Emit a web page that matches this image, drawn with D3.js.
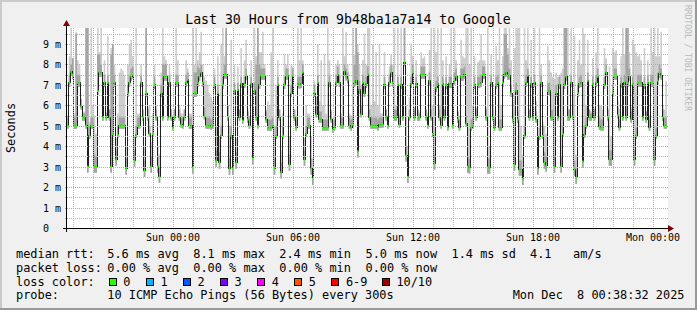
<!DOCTYPE html>
<html><head><meta charset="utf-8">
<script src="https://cdn.jsdelivr.net/npm/d3@7"></script>
<style>
html,body{margin:0;padding:0;background:#f0f0f0;}
svg{display:block;}
text{font-family:"DejaVu Sans Mono",monospace;fill:#000;}
</style>
</head><body>
<svg id="chart" width="697" height="310"></svg>
<script>
// ---------- data ----------
const titleText = "Last 30 Hours from 9b48ba1a7a14 to Google";
const yAxisLabel = "Seconds";
const yTickValues = [0, 1, 2, 3, 4, 5, 6, 7, 8, 9];
const yTickLabels = ["0", "1 m", "2 m", "3 m", "4 m", "5 m", "6 m", "7 m", "8 m", "9 m"];
const stepSeconds = 300;
const startTime = new Date(2025, 11, 6, 18, 42, 0);
const endTime = new Date(2025, 11, 8, 0, 42, 0);

// median RTT per 5-minute step (ms)
const median = [
5.0,7.1,7.65,7.5,5.0,5.0,7.1,7.1,5.95,5.4,
5.4,5.0,3.0,4.5,5.0,5.0,3.0,3.0,6.7,7.6,
7.6,5.4,7.1,5.4,7.1,5.4,3.0,4.6,7.1,3.35,
4.55,5.0,5.0,5.0,5.0,2.9,6.6,7.1,7.4,7.5,
3.3,4.55,5.0,5.0,7.1,5.4,2.8,6.6,5.4,4.6,
3.0,4.6,7.0,5.4,3.0,2.5,6.6,5.4,7.4,7.4,
5.4,7.1,5.4,4.9,5.4,7.1,7.1,5.4,5.05,5.0,
5.4,7.1,7.25,5.0,5.0,2.95,6.6,6.6,7.1,7.4,
7.6,7.1,5.45,5.0,5.0,5.0,4.95,5.0,7.0,3.3,
6.6,3.2,4.5,7.0,7.5,7.5,5.4,2.9,4.5,2.9,
6.7,3.2,6.75,5.4,7.05,5.25,7.05,7.45,5.3,5.0,
7.05,3.4,6.7,5.4,5.0,7.0,7.45,7.45,7.45,5.3,
4.9,4.9,4.9,5.0,2.9,4.5,7.0,5.4,2.72,4.5,
7.0,7.45,7.45,3.1,6.6,7.45,5.4,4.9,7.05,7.0,
7.05,7.6,3.35,4.6,5.0,5.0,2.9,2.4,6.6,5.55,
7.1,5.3,5.3,4.9,4.9,4.9,4.9,7.1,5.3,4.8,
4.9,7.1,7.5,7.1,5.0,5.0,7.65,7.4,7.25,5.0,
4.9,5.05,7.1,7.2,3.75,6.75,5.55,7.1,6.6,7.05,
7.5,5.4,5.0,5.0,5.0,5.0,4.9,5.05,5.05,5.05,
7.0,5.4,5.0,7.1,7.6,7.1,5.4,5.4,7.0,5.05,
7.0,5.4,8.1,3.55,2.5,5.4,7.05,7.6,5.4,7.05,
5.4,5.4,7.5,7.5,7.5,5.4,5.0,7.2,5.4,4.6,
3.15,6.85,7.05,5.4,5.0,7.05,5.4,7.0,4.9,7.05,
7.05,5.0,7.2,7.4,5.3,4.9,7.4,7.4,7.5,5.1,
3.0,2.95,4.9,5.0,7.0,5.4,7.05,7.05,7.1,7.5,
7.5,5.4,2.95,2.95,7.1,5.4,4.9,7.0,7.1,4.9,
4.9,7.1,7.5,7.6,7.45,7.45,6.6,5.3,3.1,6.7,
5.3,2.85,2.85,2.4,4.5,7.1,7.45,5.4,7.05,5.4,
7.1,5.3,2.9,4.45,7.1,4.5,3.2,3.05,6.7,6.7,
5.4,5.4,3.0,6.6,5.4,7.0,3.0,4.6,7.0,7.4,
5.4,5.4,7.1,5.45,2.85,2.45,6.6,7.05,7.1,3.25,
4.55,5.0,7.2,5.4,5.4,7.05,5.4,7.1,7.4,4.95,
4.9,4.9,7.0,7.6,5.4,3.35,3.35,6.6,7.45,7.45,
5.5,4.9,7.05,5.4,7.1,5.4,7.1,7.4,5.3,7.05,
3.35,4.5,7.1,7.1,7.1,5.4,7.0,5.3,7.1,4.9,
7.1,7.1,3.35,4.5,7.2,7.55,7.45,5.4,5.0,5.0];

// lowest ping per step (ms)
const pingMin = [
4.85,6.9,7.45,7.3,4.85,4.85,6.9,6.9,5.8,5.25,
5.25,4.85,2.7,4.35,4.85,4.85,2.7,2.7,6.5,7.4,
7.4,5.25,6.9,5.25,6.9,5.25,2.7,4.45,6.9,3.05,
4.4,4.85,4.85,4.85,4.85,2.6,6.4,6.9,7.2,7.3,
3.0,4.4,4.85,4.85,6.9,5.25,2.5,6.4,5.25,4.45,
2.7,4.45,6.8,5.25,2.7,2.2,6.4,5.25,7.2,7.2,
5.25,6.9,5.25,4.75,5.25,6.9,6.9,5.25,4.9,4.85,
5.25,6.9,7.05,4.85,4.85,2.65,6.4,6.4,6.9,7.2,
7.4,6.9,5.3,4.85,4.85,4.85,4.8,4.85,6.8,3.0,
6.4,2.9,4.35,6.8,7.3,7.3,5.25,2.6,4.35,2.6,
6.5,2.9,6.55,5.25,6.85,5.1,6.85,7.25,5.15,4.85,
6.85,3.1,6.5,5.25,4.85,6.8,7.25,7.25,7.25,5.15,
4.75,4.75,4.75,4.85,2.6,4.35,6.8,5.25,2.42,4.35,
6.8,7.25,7.25,2.8,6.4,7.25,5.25,4.75,6.85,6.8,
6.85,7.4,3.05,4.45,4.85,4.85,2.6,2.1,6.4,5.4,
6.9,5.15,5.15,4.75,4.75,4.75,4.75,6.9,5.15,4.65,
4.75,6.9,7.3,6.9,4.85,4.85,7.45,7.2,7.05,4.85,
4.75,4.9,6.9,7.0,3.45,6.55,5.4,6.9,6.4,6.85,
7.3,5.25,4.85,4.85,4.85,4.85,4.75,4.9,4.9,4.9,
6.8,5.25,4.85,6.9,7.4,6.9,5.25,5.25,6.8,4.9,
6.8,5.25,7.9,3.25,2.2,5.25,6.85,7.4,5.25,6.85,
5.25,5.25,7.3,7.3,7.3,5.25,4.85,7.0,5.25,4.45,
2.85,6.65,6.85,5.25,4.85,6.85,5.25,6.8,4.75,6.85,
6.85,4.85,7.0,7.2,5.15,4.75,7.2,7.2,7.3,4.95,
2.7,2.65,4.75,4.85,6.8,5.25,6.85,6.85,6.9,7.3,
7.3,5.25,2.65,2.65,6.9,5.25,4.75,6.8,6.9,4.75,
4.75,6.9,7.3,7.4,7.25,7.25,6.4,5.15,2.8,6.5,
5.15,2.55,2.55,2.1,4.35,6.9,7.25,5.25,6.85,5.25,
6.9,5.15,2.6,4.3,6.9,4.35,2.9,2.75,6.5,6.5,
5.25,5.25,2.7,6.4,5.25,6.8,2.7,4.45,6.8,7.2,
5.25,5.25,6.9,5.3,2.55,2.15,6.4,6.85,6.9,2.95,
4.4,4.85,7.0,5.25,5.25,6.85,5.25,6.9,7.2,4.8,
4.75,4.75,6.8,7.4,5.25,3.05,3.05,6.4,7.25,7.25,
5.35,4.75,6.85,5.25,6.9,5.25,6.9,7.2,5.15,6.85,
3.05,4.35,6.9,6.9,6.9,5.25,6.8,5.15,6.9,4.75,
6.9,6.9,3.05,4.35,7.0,7.35,7.25,5.25,4.85,4.85];

// ninth of ten pings per step (ms)
const ping9 = [
5.4,7.5,8.0,8.3,5.4,9.5,7.5,7.5,6.3,5.6,
5.6,10,10,5.0,5.4,5.4,3.6,3.5,8.5,8.5,
8.0,5.8,7.5,5.6,7.5,5.8,8.5,9.0,7.5,3.8,
5.0,5.4,5.4,5.4,5.4,3.4,7.0,7.5,7.8,7.9,
3.8,5.0,5.4,5.4,7.5,5.8,3.3,10,5.8,5.0,
3.5,5.0,7.4,5.8,3.5,3.0,7.0,8.0,8.0,8.0,
5.6,7.5,5.8,5.3,5.8,7.5,7.5,5.8,5.4,5.4,
5.8,7.5,7.6,5.4,5.4,3.4,7.6,7.6,7.9,7.8,
8.0,7.5,5.9,5.4,5.4,5.4,5.3,5.4,7.4,3.8,
7.0,3.7,5.0,7.4,8.0,10,6.0,3.4,5.0,3.4,
7.1,3.7,7.1,5.8,7.4,5.6,7.4,7.8,5.7,5.4,
7.4,3.9,7.1,8.0,10,8.0,7.8,7.8,7.8,5.7,
5.3,5.3,5.3,5.4,3.4,5.0,7.4,5.8,3.2,5.0,
7.4,7.8,7.8,3.6,7.0,7.8,5.8,5.3,7.4,7.4,
7.4,8.0,3.8,5.0,5.4,5.4,3.4,2.9,7.0,6.0,
7.5,5.7,5.7,5.3,5.3,5.3,5.3,7.5,5.7,5.2,
5.3,7.5,7.9,7.5,5.4,5.4,8.0,7.8,7.6,5.4,
5.3,5.4,8.0,10,8.6,7.2,6.0,7.5,7.0,7.4,
7.9,5.8,5.4,5.4,5.4,5.4,5.3,5.4,5.4,5.4,
7.4,5.8,5.4,7.5,8.0,7.5,5.8,5.8,7.4,5.4,
7.4,5.8,10,4.0,3.0,5.8,7.4,8.0,5.8,7.4,
5.8,5.6,7.9,7.9,7.9,5.8,5.4,7.6,5.8,5.0,
3.6,7.2,7.4,5.8,5.4,7.4,5.8,7.4,5.3,7.4,
7.4,5.4,7.6,7.8,5.7,5.3,7.8,7.8,7.9,5.5,
3.5,3.4,5.3,5.4,7.4,5.8,7.4,7.4,7.5,7.9,
7.9,5.8,3.4,3.4,7.5,5.8,5.3,7.4,7.5,5.3,
5.3,7.5,9.5,9.5,8.5,7.8,7.0,5.7,3.6,7.1,
5.7,3.3,3.3,2.9,5.0,7.5,7.8,5.8,7.4,5.8,
7.5,5.7,3.4,4.9,7.5,5.0,3.7,3.5,7.1,7.1,
5.8,5.8,3.5,7.0,5.8,7.4,3.5,5.0,10,10,
5.8,5.8,7.5,5.9,3.3,2.9,7.0,7.4,7.5,3.7,
5.0,5.4,7.6,5.8,5.6,7.4,5.8,7.5,7.8,5.4,
5.3,5.3,7.4,8.0,5.8,3.8,3.8,7.0,7.8,7.8,
5.9,5.3,7.4,5.8,7.5,10,10,7.8,5.7,7.4,
3.8,4.9,7.5,7.5,7.5,5.8,7.4,5.7,7.5,5.3,
7.5,7.5,3.8,4.9,7.6,8.0,7.8,5.8,5.4,5.4];

// highest ping per step (ms)
const pingMax = [
5.5,8.4,10,8.2,5.6,9.6,8.2,8.0,6.3,5.7,
5.7,10,10,5.2,10,6.0,5.5,4.6,10,8.6,
10,5.8,8.2,5.7,9.4,5.8,8.8,9.0,8.0,4.4,
5.6,7.6,7.8,7.7,7.5,4.0,8.0,9.0,9.2,8.4,
4.5,10,5.6,5.6,8.0,5.8,4.0,10,5.9,6.0,
4.2,5.6,8.0,6.0,4.0,3.6,7.6,10,8.4,8.2,
5.7,8.0,5.8,5.5,5.8,10,8.2,6.0,5.6,5.6,
5.8,8.2,7.8,5.6,5.6,10,8.0,10,8.2,8.6,
9.6,8.0,7.4,7.2,7.0,6.6,6.4,6.2,7.8,5.0,
8.4,4.5,9.0,10,8.4,10,6.0,5.0,9.2,4.0,
8.0,4.4,7.9,5.8,8.8,5.7,8.2,9.2,5.8,5.5,
8.2,4.5,10,8.4,10,8.6,8.6,9.6,8.0,5.8,
6.2,6.0,8.6,10,5.0,7.0,8.2,5.8,3.8,5.6,
8.5,8.0,8.5,4.5,8.0,7.9,5.8,5.5,10,8.2,
9.8,8.2,4.4,6.0,5.6,5.6,4.5,3.4,7.2,6.4,
9.0,6.2,8.2,6.0,8.5,5.6,10,8.2,5.8,5.4,
5.5,8.0,8.2,8.0,5.6,10,8.4,9.6,8.0,5.6,
5.5,10,8.5,10,9.0,8.0,7.0,8.2,9.5,8.0,
10,10,6.0,9.0,6.2,8.6,6.0,9.0,5.6,5.6,
8.6,5.8,5.5,7.9,8.5,8.0,10,6.0,10,5.6,
10,6.2,10,6.0,4.0,6.4,9.0,8.4,5.9,8.2,
5.8,5.7,8.6,8.3,8.4,5.8,5.6,8.7,10,6.0,
10,8.6,10,6.0,10,8.2,5.8,8.4,5.5,8.0,
10,6.0,10,8.2,5.7,5.5,9.2,8.4,8.3,10,
10,8.0,10,6.0,8.4,5.9,8.1,8.2,9.5,8.2,
8.2,5.9,10,4.0,8.5,5.9,5.5,8.9,8.2,10,
6.0,8.4,10,9.8,8.8,10,8.2,6.2,8.8,10,
10,10,5.0,3.6,10,8.2,10,5.8,9.2,5.9,
10,6.2,4.2,10,8.0,5.2,5.0,4.6,8.9,8.2,
7.6,7.4,7.3,7.6,7.4,7.5,7.6,7.8,10,10,
10,5.8,10,6.4,9.4,3.6,8.2,9.2,8.0,10,
9.5,6.0,9.2,5.8,5.7,8.3,5.8,8.6,10,6.0,
6.0,5.8,8.8,8.3,5.8,7.9,4.5,8.8,8.6,8.7,
6.2,5.8,8.4,10,8.5,10,10,8.6,5.9,9.2,
9.0,8.6,8.4,8.5,8.2,5.9,8.8,5.7,8.2,5.5,
10,8.6,10,8.4,10,8.4,9.6,6.0,5.8,7.2];

const legendRows = [
  ["median rtt:", "5.6 ms avg", "8.1 ms max", "2.4 ms min", "5.0 ms now", "1.4 ms sd", "4.1", "am/s"],
  ["packet loss:", "0.00 % avg", "0.00 % max", "0.00 % min", "0.00 % now"]
];
const lossLabels = ["0", "1", "2", "3", "4", "5", "6-9", "10/10"];
const lossColors = ["#26ff00", "#00b8ff", "#0059ff", "#7e00ff", "#ff00ff", "#ff5500", "#ff0000", "#a10000"];
const probeLabel = "probe:";
const probeText = "10 ICMP Echo Pings (56 Bytes) every 300s";
const stampText = "Mon Dec  8 00:38:32 2025";
const watermark = "RRDTOOL / TOBI OETIKER";

// ---------- layout ----------
const W = 697, H = 310;
const plot = {left: 67, right: 667, top: 28, bottom: 228};
const svg = d3.select("#chart");

// frame
svg.append("rect").attr("x", 0).attr("y", 0).attr("width", W).attr("height", H).attr("fill", "#f0f0f0");
svg.append("rect").attr("x", 0).attr("y", 0).attr("width", W).attr("height", 2).attr("fill", "#cbcbcb");
svg.append("rect").attr("x", 0).attr("y", 0).attr("width", 2).attr("height", H).attr("fill", "#cbcbcb");
svg.append("rect").attr("x", 0).attr("y", H - 2).attr("width", W).attr("height", 2).attr("fill", "#999999");
svg.append("rect").attr("x", W - 2).attr("y", 0).attr("width", 2).attr("height", H).attr("fill", "#999999");

// canvas
svg.append("rect").attr("x", plot.left).attr("y", plot.top)
  .attr("width", plot.right - plot.left + 1).attr("height", plot.bottom - plot.top)
  .attr("fill", "#ffffff");

const x = d3.scaleTime().domain([startTime, endTime]).range([plot.left, plot.right]);
const y = d3.scaleLinear().domain([0, 9.78]).range([plot.bottom, plot.top]);

const n = median.length;
const idx = d3.range(n + 1);
const tAt = i => new Date(startTime.getTime() + i * stepSeconds * 1000);
const val = (arr, i) => arr[Math.min(i, n - 1)];

svg.append("defs").append("clipPath").attr("id", "clip")
  .append("rect").attr("x", plot.left).attr("y", plot.top)
  .attr("width", plot.right - plot.left + 1).attr("height", plot.bottom - plot.top);

const g = svg.append("g").attr("clip-path", "url(#clip)");

// smoke bands
const band = (lo, hi) => d3.area()
  .x(i => x(tAt(i)))
  .y0(i => y(val(lo, i)))
  .y1(i => y(val(hi, i)))
  .curve(d3.curveStepAfter);

g.append("path").datum(idx).attr("d", band(pingMin, pingMax)).attr("fill", "#cecece");
g.append("path").datum(idx).attr("d", band(pingMin, ping9)).attr("fill", "#a4a4a4");

// grid
const gridG = svg.append("g");
const minorY = d3.range(0.5, 9.75, 1);
minorY.forEach(v => {
  const yy = Math.round(y(v)) + 0.5;
  gridG.append("line").attr("x1", plot.left - 2).attr("x2", plot.right + 1)
    .attr("y1", yy).attr("y2", yy).attr("stroke", "#b4b4b4").attr("stroke-dasharray", "1,1");
});
yTickValues.slice(1).forEach(v => {
  const yy = Math.round(y(v)) + 0.5;
  gridG.append("line").attr("x1", plot.left - 2).attr("x2", plot.right + 1)
    .attr("y1", yy).attr("y2", yy).attr("stroke", "#e39898").attr("stroke-dasharray", "1,1");
});
const hourTicks = x.ticks(d3.timeHour.every(1));
const major3 = x.ticks(d3.timeHour.every(3)).map(d => +d);
hourTicks.forEach(d => {
  const isMajor = major3.includes(+d);
  const xx = Math.round(x(d)) + 0.5;
  gridG.append("line").attr("x1", xx).attr("x2", xx)
    .attr("y1", plot.top).attr("y2", plot.bottom + 2)
    .attr("stroke", isMajor ? "#e39898" : "#b4b4b4").attr("stroke-dasharray", "1,1");
});

// median line
const medLine = d3.line().x(i => x(tAt(i))).y(i => y(val(median, i))).curve(d3.curveStepAfter);
g.append("path").datum(idx).attr("d", medLine).attr("fill", "none")
  .attr("stroke", "#202020").attr("stroke-width", 1).attr("shape-rendering", "crispEdges");

// loss-coloured median markers (0 loss everywhere)
g.selectAll("rect.med").data(d3.range(n)).enter().append("rect")
  .attr("x", i => x(tAt(i)))
  .attr("width", i => x(tAt(i + 1)) - x(tAt(i)))
  .attr("y", i => y(median[i]) - 1)
  .attr("height", 2)
  .attr("fill", lossColors[0]);

// axes
svg.append("line").attr("x1", plot.left - 4).attr("x2", plot.right + 4)
  .attr("y1", plot.bottom + 0.5).attr("y2", plot.bottom + 0.5).attr("stroke", "#000");
svg.append("line").attr("x1", plot.left - 0.5).attr("x2", plot.left - 0.5)
  .attr("y1", plot.bottom + 4).attr("y2", plot.top - 4).attr("stroke", "#000");
svg.append("path").attr("d", `M${plot.right + 1},${plot.bottom - 3} L${plot.right + 7},${plot.bottom + 0.5} L${plot.right + 1},${plot.bottom + 4} Z`).attr("fill", "#7f0000");
svg.append("path").attr("d", `M${plot.left - 4},${plot.top - 2} L${plot.left - 0.5},${plot.top - 8} L${plot.left + 3},${plot.top - 2} Z`).attr("fill", "#7f0000");

// y tick labels
yTickValues.forEach((v, i) => {
  svg.append("text").attr("x", 43).attr("y", Math.round(y(v)) + 4)
    .attr("font-size", "10px").text(yTickLabels[i]);
});
// x tick labels
const fmt = d3.timeFormat("%a %H:%M");
x.ticks(d3.timeHour.every(6)).forEach(d => {
  svg.append("text").attr("x", x(d)).attr("y", 241).attr("text-anchor", "middle")
    .attr("font-size", "10px").text(fmt(d));
});

// title
svg.append("text").attr("x", 348).attr("y", 23.5).attr("text-anchor", "middle")
  .attr("font-size", "13.2px").text(titleText);

// y axis label
svg.append("text").attr("transform", "translate(15,128) rotate(-90)").attr("text-anchor", "middle")
  .attr("font-size", "11.9px").text(yAxisLabel);

// watermark
svg.append("text").attr("transform", "translate(685,5) rotate(90)").attr("text-anchor", "start")
  .attr("font-size", "8px").style("fill", "#b8b8b8").text(watermark);

// legend
const colX = [16, 107.3, 193.3, 279.3, 365.5, 451.5, 530, 573];
const rowY = [258.3, 272, 285.7, 299.4];
legendRows.forEach((row, r) => {
  row.forEach((s, c) => {
    svg.append("text").attr("x", colX[c]).attr("y", rowY[r]).attr("font-size", "11.9px")
      .style("white-space", "pre").text(s);
  });
});
svg.append("text").attr("x", 16).attr("y", rowY[2]).attr("font-size", "11.9px").text("loss color:");
const boxX = [108.7, 145.8, 182.9, 220, 257.1, 294.2, 331.3, 381.8];
lossLabels.forEach((s, i) => {
  svg.append("rect").attr("x", Math.round(boxX[i]) + 0.5).attr("y", 278.5).attr("width", 7).attr("height", 7)
    .attr("fill", lossColors[i]).attr("stroke", "#000").attr("stroke-width", 1);
  svg.append("text").attr("x", boxX[i] + 14.6).attr("y", rowY[2]).attr("font-size", "11.9px").text(s);
});
svg.append("text").attr("x", 16).attr("y", rowY[3]).attr("font-size", "11.9px").text(probeLabel);
svg.append("text").attr("x", 107.3).attr("y", rowY[3]).attr("font-size", "11.9px").text(probeText);
svg.append("text").attr("x", 512.7).attr("y", rowY[3]).attr("font-size", "11.9px")
  .style("white-space", "pre").text(stampText);
</script>
</body></html>
